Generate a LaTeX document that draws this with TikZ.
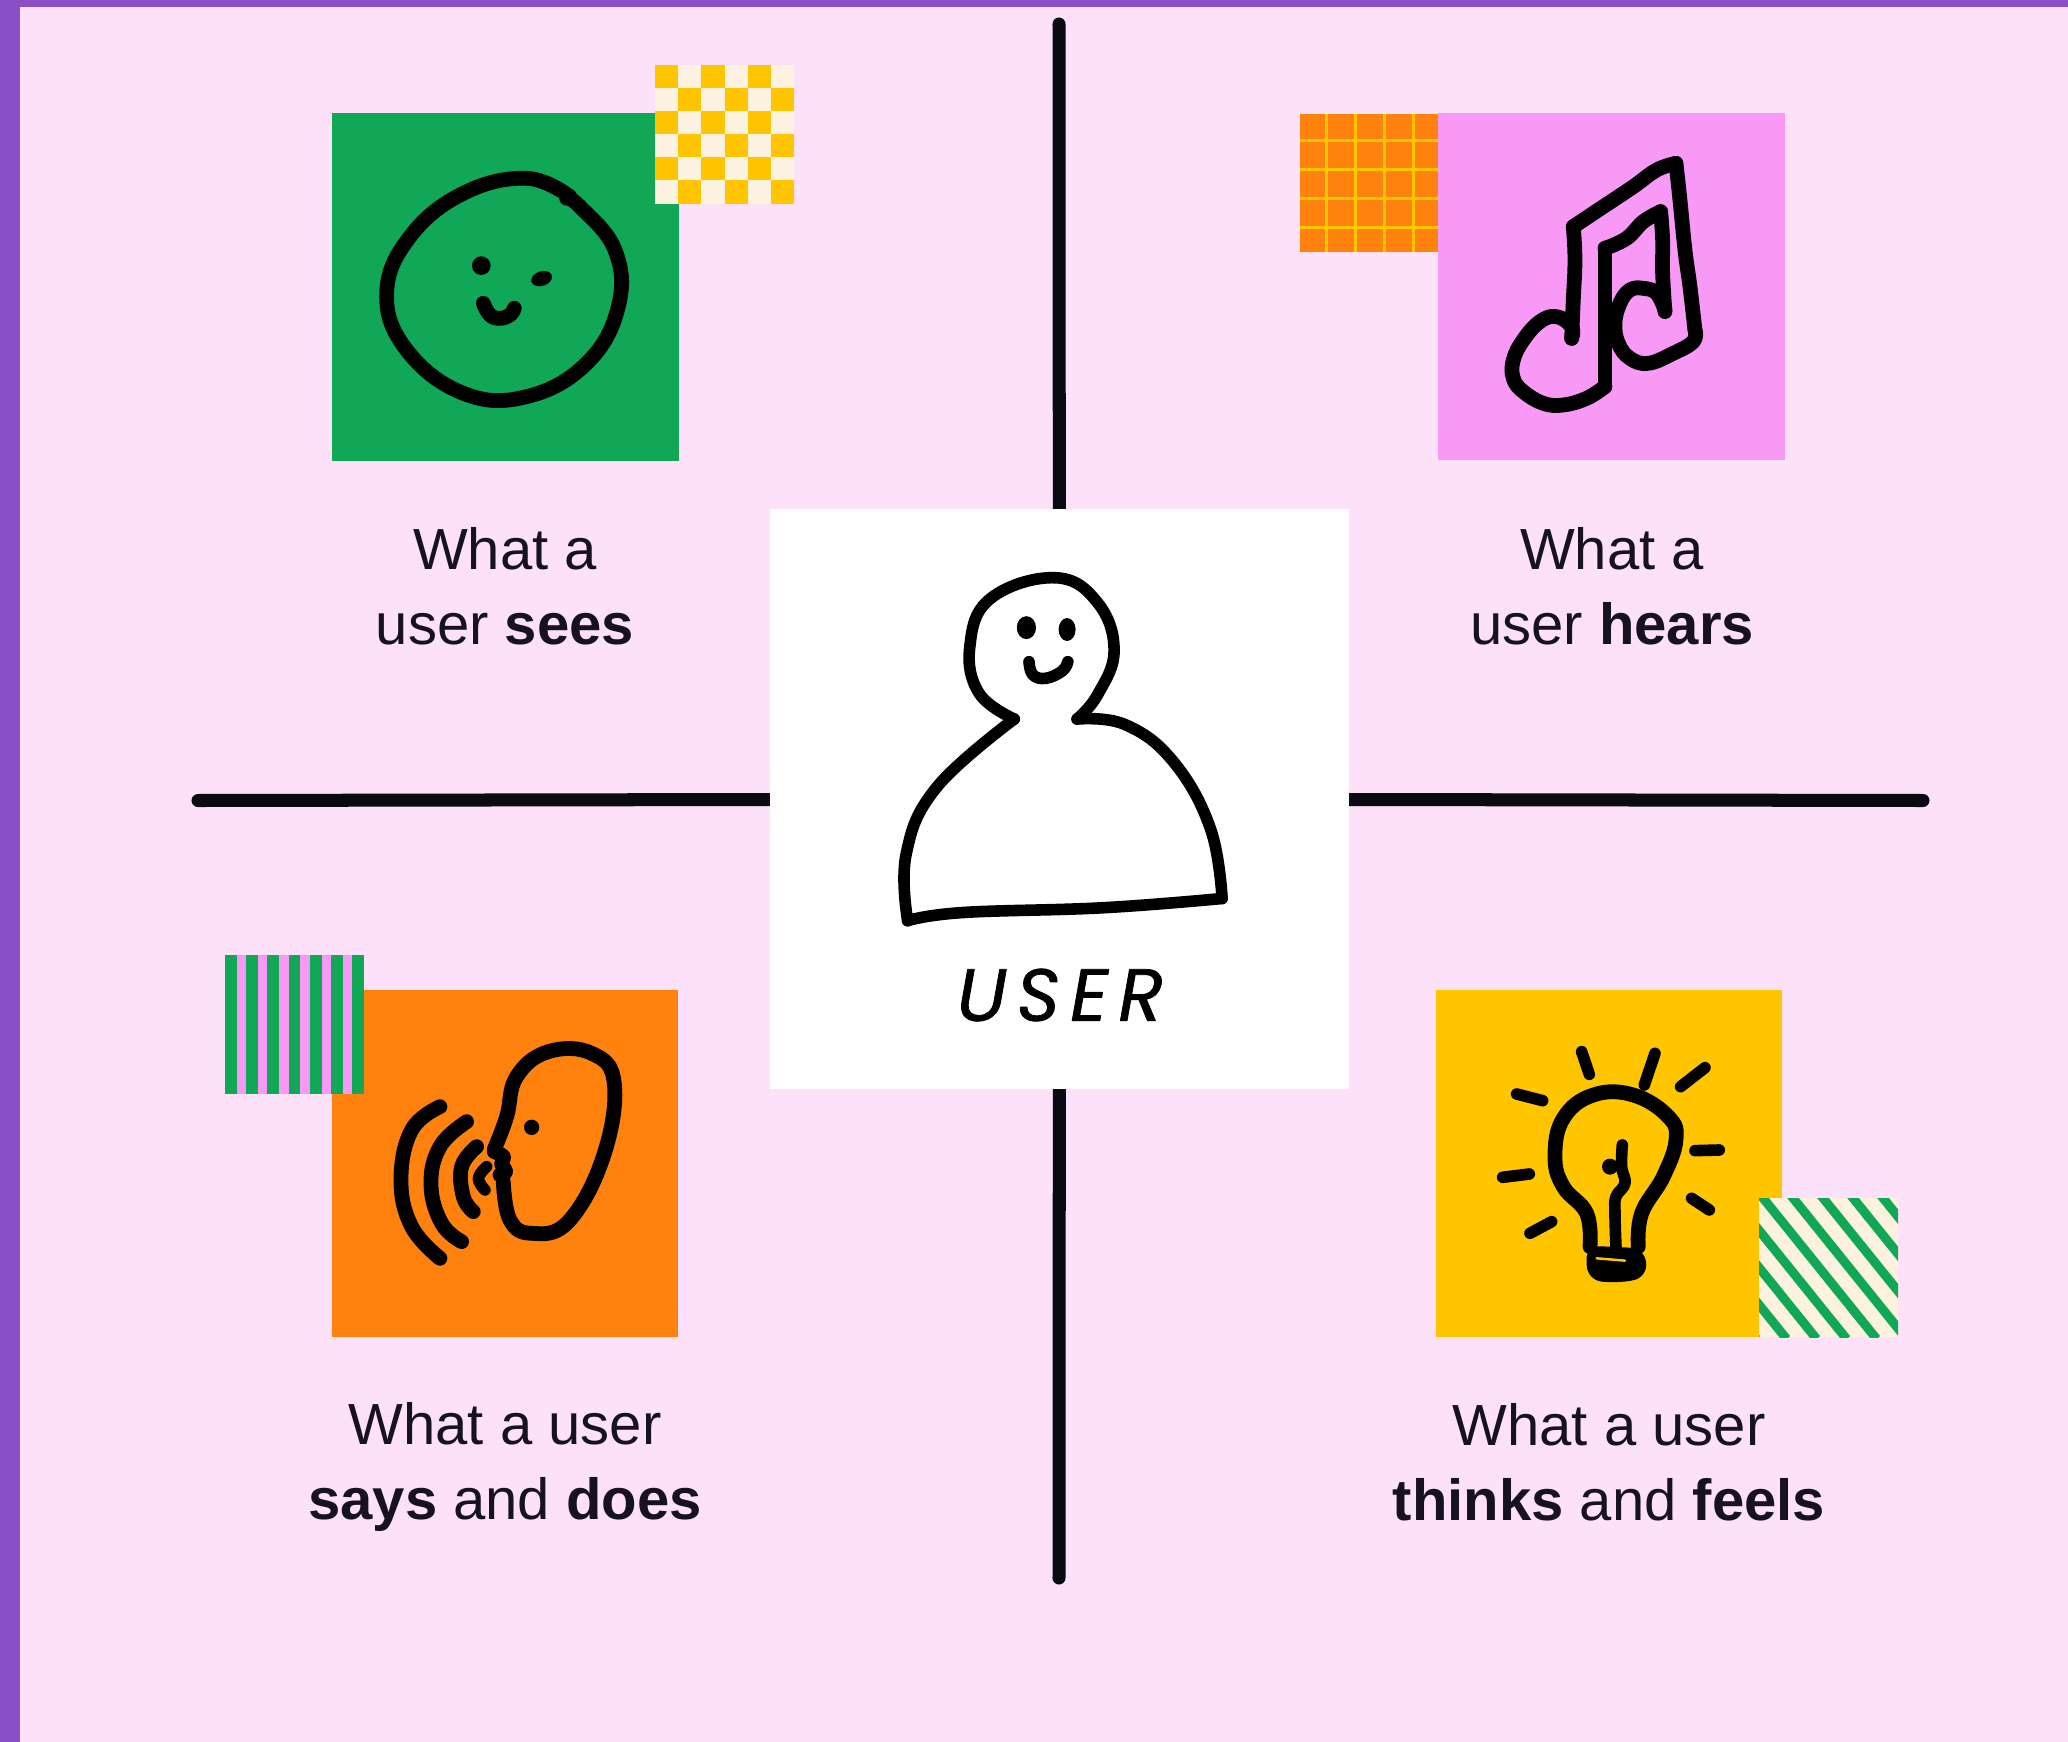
\documentclass[tikz,border=0pt]{standalone}
\usepackage{fontspec}
\setmainfont{Liberation Sans}
\newfontfamily\handfont[LetterSpace=14,FakeBold=1]{Poppins}
\definecolor{bgpink}{HTML}{FDE1F9}
\definecolor{edgepurple}{HTML}{8A4FC7}
\definecolor{leafgreen}{HTML}{10A757}
\definecolor{candypink}{HTML}{F799F5}
\definecolor{sunorange}{HTML}{FF820F}
\definecolor{sungold}{HTML}{FFC600}
\definecolor{cream}{HTML}{FDF2DF}
\definecolor{inkblack}{HTML}{0A0A12}
\definecolor{textblack}{HTML}{17121F}
\begin{document}
\begin{tikzpicture}[x=0.01cm,y=-0.01cm,line cap=round,line join=round]
        % Styles
        \tikzstyle{ink}=[draw=black,line width=4.2pt]
        \tikzstyle{thin ink}=[draw=black,line width=3.3pt]
        \tikzstyle{axis line}=[draw=inkblack,line width=3.7pt]
        \tikzstyle{caption}=[align=center,text=textblack,font=\fontsize{16.5}{21.3}\selectfont]
        \tikzstyle{soft}=[smooth,tension=0.7]
        %The graphic
        %page
        \useasboundingbox (0,0) rectangle (2068,1742);
        \fill[bgpink] (0,0) rectangle (2068,1742);
        \fill[edgepurple] (0,0) rectangle (2068,7);
        \fill[edgepurple] (0,0) rectangle (20,1742);
        %centre card and axes
        \node[inner sep=0pt,minimum size=5.78cm] (user card) at (1059.5,799) {};
        \coordinate (north end) at (1059,24);
        \coordinate (south end) at (1059,1578);
        \coordinate (west end) at (198,800.5);
        \coordinate (east end) at (1923,800.5);
        \draw[axis line] (north end) -- (user card);
        \draw[axis line] (south end) -- (user card);
        \draw[axis line] (west end) -- (user card);
        \draw[axis line] (east end) -- (user card);
        \fill[white] (user card.south west) rectangle (user card.north east);
        %user
        \begin{scope}[shift={(770,510)},scale=0.37]
            \draw[thin ink] plot[soft] coordinates {(660,565) (565,495) (540,370) (595,240) (770,183) (885,250) (930,380) (885,500) (830,565)};
            \draw[thin ink] plot[soft] coordinates {(830,565) (960,580) (1090,680) (1190,860) (1222,1050)};
            \draw[thin ink] plot[soft] coordinates {(1222,1050) (900,1075) (520,1088) (372,1110)};
            \draw[thin ink] plot[soft] coordinates {(372,1110) (368,930) (450,750) (660,565)};
            \fill (693,318) ellipse (26 and 31);
            \fill (803,323) ellipse (23 and 31);
            \draw[thin ink] plot[soft] coordinates {(700,410) (710,445) (745,455) (790,435) (805,410)};
        \end{scope}
        \node[inner sep=0pt,font=\handfont\fontsize{21}{21}\selectfont\itshape] (user word) at (1060,995) {USER};
        %sees
        \fill[leafgreen] (332,113) rectangle (679,461);
        \fill[cream] (655,64.5) rectangle (794,203.5);
        \foreach \row/\first in {0/0,1/1,2/0,3/1,4/0,5/1}
            \foreach \col in {0,2,4}
                \fill[sungold] ({655+(\col+\first)*23.17},{64.5+\row*23.17}) rectangle +(23.17,23.17);
        \begin{scope}[shift={(320,50)},scale=0.3333]
            \draw[ink] plot[soft] coordinates {(750,440) (620,385) (430,430) (270,560) (200,730) (260,900) (430,1030) (620,1040) (800,940) (895,770) (885,600) (780,470) (740,445)};
            \fill (484,647) circle (28);
            \fill[rotate around={18:(665,686)}] (665,686) ellipse (32 and 22);
            \draw[ink] plot[soft] coordinates {(490,760) (510,795) (540,805) (570,795) (583,775)};
        \end{scope}
        \node[caption] (sees text) at (505,586) {What a\\user \textbf{sees}};
        %hears
        \fill[candypink] (1438,113) rectangle (1785,460);
        \fill[sunorange] (1300,113.5) rectangle (1438,252);
        \foreach \x in {1326.7,1355.7,1384.7,1413.3}
            \draw[sungold,line width=0.9pt,line cap=butt] (\x,113.5) -- (\x,252);
        \foreach \y in {140.7,169.7,198.7,227.3}
            \draw[sungold,line width=0.9pt,line cap=butt] (1300,\y) -- (1438,\y);
        \begin{scope}[shift={(1290,100)},scale=0.3333]
            \draw[ink] plot[soft] coordinates {(845,715) (850,600) (855,480) (850,380)};
            \draw[ink] plot[soft] coordinates {(850,380) (940,320) (1030,260) (1100,210) (1158,190)};
            \draw[ink] plot[soft] coordinates {(1158,190) (1170,300) (1185,450) (1200,560) (1215,690)};
            \draw[ink] plot[soft] coordinates {(1215,690) (1210,725) (1150,760) (1075,790) (1020,775) (985,730) (975,670) (990,610) (1020,570) (1060,565) (1100,580) (1125,630)};
            \draw[ink] plot[soft] coordinates {(1125,635) (1118,520) (1118,420) (1112,335)};
            \draw[ink] plot[soft] coordinates {(1112,335) (1060,365) (1010,415) (945,445)};
            \draw[ink] plot[soft] coordinates {(945,445) (945,560) (945,700) (945,860)};
            \draw[ink] plot[soft] coordinates {(945,860) (890,895) (820,915) (760,910) (700,875) (670,835) (670,780) (700,720) (750,665) (800,650) (845,680) (845,715)};
        \end{scope}
        \node[caption] (hears text) at (1612,586) {What a\\user \textbf{hears}};
        %says and does
        \fill[sunorange] (332,990) rectangle (678,1337);
        \foreach \i in {0,...,5}
            \fill[candypink] ({225+11.7+\i*21.2},955) rectangle +(9.5,139);
        \foreach \i in {0,...,6}
            \fill[leafgreen] ({225+\i*21.2},955) rectangle +(11.7,139);
        \begin{scope}[shift={(215,940)},scale=0.3333]
            \draw[ink] plot[soft] coordinates {(865,725) (885,840) (950,880) (1060,845) (1165,650) (1198,430) (1130,340) (1000,335) (905,410) (875,530) (838,628)};
            \draw[ink] plot[soft] coordinates {(838,635) (865,650) (860,672) (872,695) (855,705)};
            \fill (950,562) circle (23);
            \draw[ink] plot[soft] coordinates {(675,500) (590,570) (558,720) (590,860) (675,955)};
            \draw[ink] plot[soft] coordinates {(755,545) (675,620) (648,735) (680,850) (740,905)};
            \draw[ink] plot[soft] coordinates {(785,620) (740,680) (745,770) (775,815)};
            \draw[thin ink] plot[soft] coordinates {(815,680) (790,715) (810,750)};
        \end{scope}
        \node[caption] (says text) at (505,1467) {What a user\\\textbf{says} and \textbf{does}};
        %thinks and feels
        \fill[sungold] (1436,990) rectangle (1782,1337);
        \fill[cream] (1759,1198) rectangle (1898,1337);
        \begin{scope}
            \clip (1759,1198) rectangle (1898,1337);
            \foreach \i in {-5,...,4}
                \draw[leafgreen,line width=2.6pt,line cap=butt] ({1756.6+\i*30},1190) -- +(120,149);
        \end{scope}
        \begin{scope}[shift={(1430,980)},scale=0.3333]
            \draw[ink] plot[soft] coordinates {(480,800) (470,700) (400,620) (375,530) (400,415) (490,345) (610,345) (715,410) (738,480) (700,590) (635,700) (625,800)};
            \draw[thin ink] plot[soft] coordinates {(558,800) (555,700) (558,650) (585,610) (575,560) (577,495)};
            \fill (540,560) circle (24);
            \fill[rounded corners=4] (468,797) -- (645,805) -- (652,893) -- (560,910) -- (472,900) -- cycle;
            \draw[sungold,line width=0.7pt] (500,835) -- (585,842);
            \foreach \xa/\ya/\xb/\yb in {455/215/478/283,675/220/643/315,825/263/752/320,260/342/338/362,795/512/868/510,218/592/298/582,300/760/365/725,785/655/838/690}
                \draw[thin ink] (\xa,\ya) -- (\xb,\yb);
        \end{scope}
        \node[caption] (thinks text) at (1609,1462) {What a user\\\textbf{thinks} and \textbf{feels}};
    \end{tikzpicture}
\end{document}
